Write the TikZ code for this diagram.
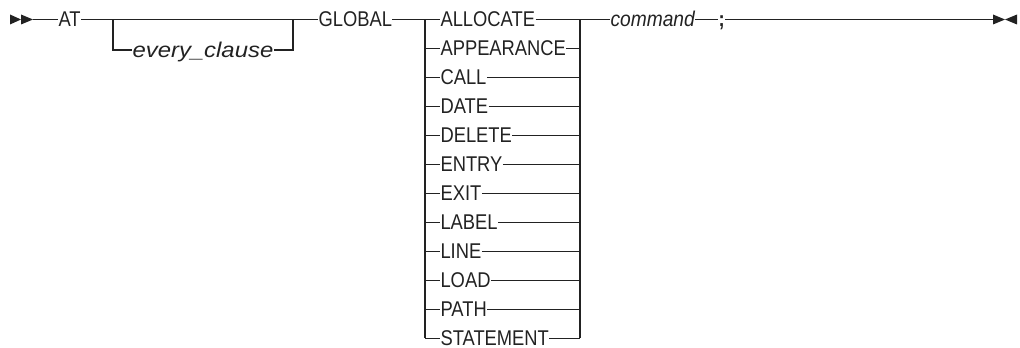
\documentclass[tikz,border=0pt]{standalone}
\usepackage{fontspec}
\newfontfamily\diagfont{Liberation Sans}[FakeStretch=0.86]
\newfontfamily\diagitwide{Liberation Sans}[FakeStretch=1.12]
\newfontfamily\diagitnarrow{Liberation Sans}[FakeStretch=0.9]
\definecolor{ink}{HTML}{222222}
\begin{document}
\begin{tikzpicture}[x=0.75pt,y=-0.75pt,line width=0.8pt,color=ink,
  kw/.style={inner sep=0pt,anchor=west,text height=11.25pt,text depth=0pt,
    font=\diagfont\fontsize{16}{18}\selectfont,text=ink},
  varwide/.style={kw,font=\diagitwide\itshape\fontsize{16}{18}\selectfont},
  varnarrow/.style={kw,font=\diagitnarrow\itshape\fontsize{16}{18}\selectfont},
  tri/.style={fill=ink,draw=none}]
\useasboundingbox (0,0) rectangle (1020,348);
% start and end marks
\fill[tri] (10,14.5) -- (21,19.5) -- (10,24.5) -- cycle;
\fill[tri] (21,14.5) -- (33,19.5) -- (21,24.5) -- cycle;
\fill[tri] (993,14.5) -- (1005,19.5) -- (993,24.5) -- cycle;
\fill[tri] (1017,14.5) -- (1005,19.5) -- (1017,24.5) -- cycle;
\coordinate (start) at (33,19.5);
\coordinate (end) at (993,19.5);
% nodes
\node[kw] (at) at (58,19.5) {AT};
\node[varwide] (every) at (132,50) {every\_clause};
\node[kw] (global) at (318,19.5) {GLOBAL};
\node[varnarrow] (command) at (610,19.5) {command};
\node[kw,font=\diagfont\bfseries\fontsize{16}{18}\selectfont] (semi) at (718,19.5) {;};
\coordinate (o1) at (113,19.5);
\coordinate (o2) at (293,19.5);
\coordinate (cl) at (425,19.5);
\coordinate (cr) at (580,19.5);
% main line
\draw (start) -- (at.west);
\draw (at.east) -- (global.west);
\draw (o1) |- (every.west);
\draw (every.east) -| (o2);
\draw (global.east) -- (cl);
\foreach \t [count=\i from 0] in {ALLOCATE,APPEARANCE,CALL,DATE,DELETE,ENTRY,EXIT,LABEL,LINE,LOAD,PATH,STATEMENT}{
  \node[kw] (c\i) at (440,{19.5+29.0*\i}) {\t};
  \draw (c\i.west -| cl) -- (c\i.west);
  \draw (c\i.east) -- (c\i.east -| cr);
}
\draw (cl) -- (cl |- c11.west);
\draw (cr) -- (cr |- c11.east);
\draw (cr) -- (command.west);
\draw (command.east) -- (semi.west);
\draw (semi.east) -- (end);
\end{tikzpicture}
\end{document}
